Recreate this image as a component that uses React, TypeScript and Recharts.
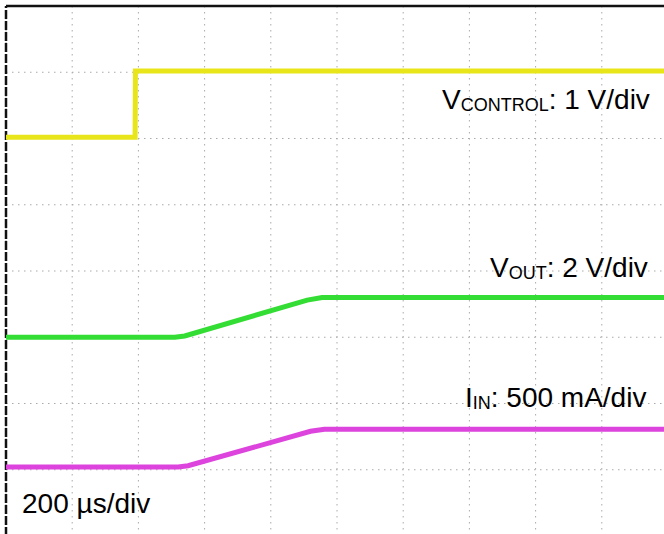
import { LineChart, Line, XAxis, YAxis, CartesianGrid, ReferenceLine } from 'recharts';

// scope screen: 10 horizontal divisions of 200 µs, 8 vertical divisions
const TIME_TICKS = [0, 200, 400, 600, 800, 1000, 1200, 1400, 1600, 1800, 2000];
const DIV_TICKS = [0, 1, 2, 3, 4, 5, 6, 7, 8];

// traces, y in screen divisions (0 = bottom graticule line)
const vControl = [
  { t: 0, y: 6.02 },
  { t: 390, y: 6.02 },
  { t: 391, y: 7.02 },
  { t: 2000, y: 7.02 },
];

const vOut = [
  { t: 0, y: 3.0 },
  { t: 510, y: 3.0 },
  { t: 540, y: 3.02 },
  { t: 910, y: 3.56 },
  { t: 955, y: 3.6 },
  { t: 2000, y: 3.6 },
];

const iIn = [
  { t: 0, y: 1.04 },
  { t: 520, y: 1.04 },
  { t: 550, y: 1.06 },
  { t: 920, y: 1.58 },
  { t: 962, y: 1.61 },
  { t: 2000, y: 1.61 },
];

const FONT = '"Liberation Sans", Arial, sans-serif';

export default function App() {
  return (
    <div
      style={{
        position: 'absolute',
        top: 0,
        left: 0,
        width: 664,
        height: 534,
        overflow: 'hidden',
        background: '#fff',
      }}
    >
      <LineChart width={670} height={540} margin={{ top: 6, right: 2, bottom: 4, left: 6 }}>
        <XAxis type="number" dataKey="t" domain={[0, 2000]} ticks={TIME_TICKS} hide allowDataOverflow />
        <YAxis type="number" dataKey="y" domain={[0, 8]} ticks={DIV_TICKS} hide allowDataOverflow />
        <CartesianGrid stroke="#aaa" strokeDasharray="1.5 4.5" />
        {/* screen frame: top and left edges */}
        <ReferenceLine y={8} stroke="#111" strokeWidth={2.5} ifOverflow="visible" />
        <ReferenceLine x={0} stroke="#111" strokeWidth={2.5} strokeDasharray="9 2" ifOverflow="visible" />
        <Line data={vControl} dataKey="y" type="linear" stroke="#e8e61a" strokeWidth={5} dot={false} isAnimationActive={false} />
        <Line data={vOut} dataKey="y" type="linear" stroke="#33dd33" strokeWidth={5} dot={false} isAnimationActive={false} />
        <Line data={iIn} dataKey="y" type="linear" stroke="#dd44dd" strokeWidth={5} dot={false} isAnimationActive={false} />

        <text x={442} y={109} fontFamily={FONT} fontSize={28} fill="#000">
          V<tspan fontSize={18} dy={2}>CONTROL</tspan>
          <tspan dy={-2}>: 1 V/div</tspan>
        </text>
        <text x={490} y={277} fontFamily={FONT} fontSize={28} fill="#000">
          V<tspan fontSize={18} dy={2}>OUT</tspan>
          <tspan dy={-2}>: 2 V/div</tspan>
        </text>
        <text x={465} y={407} fontFamily={FONT} fontSize={28} fill="#000">
          I<tspan fontSize={18} dy={2}>IN</tspan>
          <tspan dy={-2}>: 500 mA/div</tspan>
        </text>
        <text x={22} y={513} fontFamily={FONT} fontSize={28} fill="#000">
          200 µs/div
        </text>
      </LineChart>
    </div>
  );
}
